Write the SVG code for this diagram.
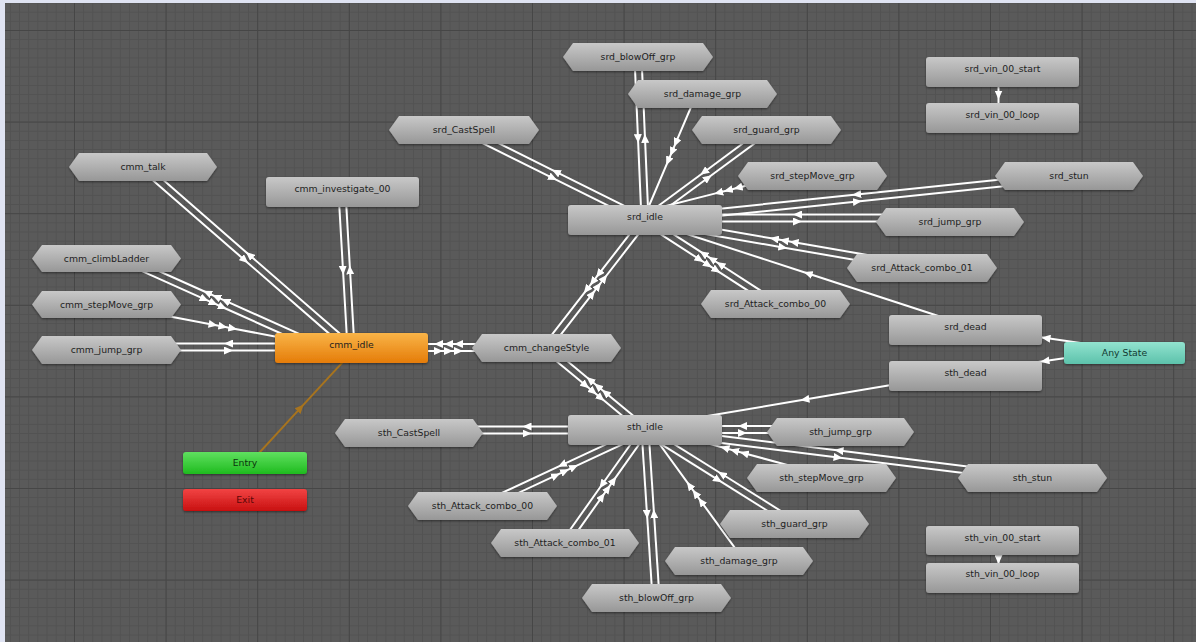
<svg xmlns="http://www.w3.org/2000/svg" width="1196" height="642" viewBox="0 0 1196 642">
<defs>
<style>
.ln{fill:none;stroke:#ffffff;stroke-width:2;marker-mid:url(#ar)}
.lo{fill:none;stroke:#a8741e;stroke-width:2;marker-mid:url(#ao)}
.hx{fill:url(#gg);filter:url(#sh)}
.rc{fill:url(#gg);filter:url(#sh)}
.lb{font-family:"DejaVu Sans",Verdana,sans-serif;font-size:9.3px;fill:#1e1e1e;text-anchor:middle}
</style>
<linearGradient id="gg" x1="0" y1="0" x2="0" y2="1"><stop offset="0" stop-color="#c8c8c8"/><stop offset="1" stop-color="#979797"/></linearGradient>
<linearGradient id="go" x1="0" y1="0" x2="0" y2="1"><stop offset="0" stop-color="#f9b448"/><stop offset="1" stop-color="#e57c08"/></linearGradient>
<linearGradient id="gn" x1="0" y1="0" x2="0" y2="1"><stop offset="0" stop-color="#5fe05f"/><stop offset="1" stop-color="#1fbb1f"/></linearGradient>
<linearGradient id="gr" x1="0" y1="0" x2="0" y2="1"><stop offset="0" stop-color="#f24444"/><stop offset="1" stop-color="#c81010"/></linearGradient>
<linearGradient id="gt" x1="0" y1="0" x2="0" y2="1"><stop offset="0" stop-color="#92e3cf"/><stop offset="1" stop-color="#5cc2ab"/></linearGradient>
<filter id="sh" x="-10%" y="-20%" width="120%" height="150%"><feDropShadow dx="0" dy="1.2" stdDeviation="1" flood-color="#000" flood-opacity="0.45"/></filter>
<marker id="ar" viewBox="0 0 9 8" markerWidth="9" markerHeight="8" refX="4.5" refY="4" orient="auto" markerUnits="userSpaceOnUse"><path d="M0,0 L9,4 L0,8 z" fill="#ffffff"/></marker>
<marker id="ao" viewBox="0 0 9 8" markerWidth="9" markerHeight="8" refX="4.5" refY="4" orient="auto" markerUnits="userSpaceOnUse"><path d="M0,0 L9,4 L0,8 z" fill="#a8741e"/></marker>
<pattern id="gm" x="74" y="30" width="9.16" height="9.16" patternUnits="userSpaceOnUse"><rect width="9.16" height="1" fill="#525252"/><rect width="1" height="9.16" fill="#525252"/></pattern>
<pattern id="gM" x="74" y="30" width="91.6" height="91.6" patternUnits="userSpaceOnUse"><rect width="91.6" height="1" fill="#464646"/><rect width="1" height="91.6" fill="#464646"/></pattern>
</defs>

<rect x="0" y="0" width="1196" height="642" fill="#dfe3f2"/>
<rect x="5" y="3" width="1191" height="639" fill="#5a5a5a"/>
<rect x="5" y="3" width="1191" height="639" fill="url(#gm)"/>
<rect x="5" y="3" width="1191" height="639" fill="url(#gM)"/>

<g id="connectors">
<g transform="translate(143 167) rotate(41.03)"><polyline class="ln" points="0,3.5 137.9,3.5 275.7,3.5"/><polyline class="ln" points="275.7,-3.5 137.9,-3.5 0,-3.5"/></g>
<g transform="translate(342 192) rotate(86.7)"><polyline class="ln" points="0,3.5 78.2,3.5 156.3,3.5"/><polyline class="ln" points="156.3,-3.5 78.2,-3.5 0,-3.5"/></g>
<g transform="translate(110 253) rotate(24.12)"><polyline class="ln" points="0,3.5 105,3.5 115,3.5 125,3.5 230.1,3.5"/><polyline class="ln" points="230.1,-3.5 125,-3.5 115,-3.5 105,-3.5 0,-3.5"/></g>
<g transform="translate(110 305) rotate(10.81)"><polyline class="ln" points="0,0 105,0 115,0 125,0 224,0"/></g>
<g transform="translate(106 347)"><polyline class="ln" points="0,3.5 122.5,3.5 245,3.5"/><polyline class="ln" points="245,-3.5 122.5,-3.5 0,-3.5"/></g>
<g transform="translate(351 347.5)"><polyline class="ln" points="0,3.5 87.5,3.5 97.5,3.5 107.5,3.5 195,3.5"/><polyline class="ln" points="195,-3.5 107.5,-3.5 97.5,-3.5 87.5,-3.5 0,-3.5"/></g>
<g transform="translate(546 348) rotate(-52.28)"><polyline class="ln" points="0,3.5 70.9,3.5 80.9,3.5 90.9,3.5 161.8,3.5"/><polyline class="ln" points="161.8,-3.5 90.9,-3.5 80.9,-3.5 70.9,-3.5 0,-3.5"/></g>
<g transform="translate(546 348) rotate(39.63)"><polyline class="ln" points="0,3.5 54.3,3.5 64.3,3.5 74.3,3.5 128.6,3.5"/><polyline class="ln" points="128.6,-3.5 74.3,-3.5 64.3,-3.5 54.3,-3.5 0,-3.5"/></g>
<g transform="translate(245 463) rotate(-47.33)"><polyline class="lo" points="0,3.5 78.2,3.5 156.4,3.5"/></g>
<g transform="translate(464 130) rotate(26.44)"><polyline class="ln" points="0,3.5 101,3.5 202.1,3.5"/><polyline class="ln" points="202.1,-3.5 101,-3.5 0,-3.5"/></g>
<g transform="translate(638 57) rotate(87.54)"><polyline class="ln" points="0,3.5 81.6,3.5 163.2,3.5"/><polyline class="ln" points="163.2,-3.5 81.6,-3.5 0,-3.5"/></g>
<g transform="translate(697 93) rotate(113.04)"><polyline class="ln" points="0,0 54,0 64,0 74,0 138,0"/></g>
<g transform="translate(645 220) rotate(-36.42)"><polyline class="ln" points="0,3.5 75.8,3.5 151.6,3.5"/><polyline class="ln" points="151.6,-3.5 75.8,-3.5 0,-3.5"/></g>
<g transform="translate(800 172) rotate(165.78)"><polyline class="ln" points="0,0 64,0 74,0 84,0 154.7,0"/></g>
<g transform="translate(645 220) rotate(-5.92)"><polyline class="ln" points="0,3.5 213.2,3.5 426.3,3.5"/><polyline class="ln" points="426.3,-3.5 213.2,-3.5 0,-3.5"/></g>
<g transform="translate(645 218)"><polyline class="ln" points="0,3.5 152.5,3.5 305,3.5"/><polyline class="ln" points="305,-3.5 152.5,-3.5 0,-3.5"/></g>
<g transform="translate(645 220) rotate(9.83)"><polyline class="ln" points="0,3.5 140.6,3.5 281.1,3.5"/><polyline class="ln" points="281.1,-3.5 150.6,-3.5 140.6,-3.5 130.6,-3.5 0,-3.5"/></g>
<g transform="translate(645 220) rotate(32.87)"><polyline class="ln" points="0,3.5 67.4,3.5 77.4,3.5 87.4,3.5 154.8,3.5"/><polyline class="ln" points="154.8,-3.5 87.4,-3.5 77.4,-3.5 67.4,-3.5 0,-3.5"/></g>
<g transform="translate(966 325) rotate(-161.95)"><polyline class="ln" points="0,0 166.2,0 332.4,0"/></g>
<g transform="translate(1125 353) rotate(-171.77)"><polyline class="ln" points="0,3.5 80.4,3.5 160.7,3.5"/></g>
<g transform="translate(1125 353) rotate(171.77)"><polyline class="ln" points="0,3.5 80.4,3.5 160.7,3.5"/></g>
<g transform="translate(966 376) rotate(170.45)"><polyline class="ln" points="0,3.5 162.8,3.5 325.5,3.5"/></g>
<g transform="translate(409 430)"><polyline class="ln" points="0,3.5 118,3.5 236,3.5"/><polyline class="ln" points="236,-3.5 118,-3.5 0,-3.5"/></g>
<g transform="translate(645 430) rotate(155)"><polyline class="ln" points="0,3.5 89.9,3.5 179.8,3.5"/><polyline class="ln" points="179.8,-3.5 99.9,-3.5 89.9,-3.5 79.9,-3.5 0,-3.5"/></g>
<g transform="translate(645 430) rotate(125.3)"><polyline class="ln" points="0,3.5 69.3,3.5 138.5,3.5"/><polyline class="ln" points="138.5,-3.5 79.3,-3.5 69.3,-3.5 59.3,-3.5 0,-3.5"/></g>
<g transform="translate(645 430) rotate(86.25)"><polyline class="ln" points="0,3.5 84.2,3.5 168.4,3.5"/><polyline class="ln" points="168.4,-3.5 84.2,-3.5 0,-3.5"/></g>
<g transform="translate(740 561) rotate(-125.95)"><polyline class="ln" points="0,3.5 70.9,3.5 80.9,3.5 90.9,3.5 161.8,3.5"/></g>
<g transform="translate(645 430) rotate(32.07)"><polyline class="ln" points="0,3.5 88.5,3.5 177,3.5"/><polyline class="ln" points="177,-3.5 88.5,-3.5 0,-3.5"/></g>
<g transform="translate(822 478) rotate(-164.83)"><polyline class="ln" points="0,3.5 81.7,3.5 91.7,3.5 101.7,3.5 183.4,3.5"/></g>
<g transform="translate(645 430) rotate(7.07)"><polyline class="ln" points="0,3.5 195,3.5 390,3.5"/><polyline class="ln" points="390,-3.5 195,-3.5 0,-3.5"/></g>
<g transform="translate(645 429.5)"><polyline class="ln" points="0,3.5 97.5,3.5 195,3.5"/><polyline class="ln" points="195,-3.5 97.5,-3.5 0,-3.5"/></g>
<g transform="translate(1002 72) rotate(90)"><polyline class="ln" points="0,3.5 23,3.5 46,3.5"/></g>
<g transform="translate(1002 541) rotate(90)"><polyline class="ln" points="0,3.5 18.5,3.5 37,3.5"/></g>
</g>

<g id="n-cmm_talk"><polygon class="hx" points="69,167 79,153 207,153 217,167 207,181 79,181"/><text class="lb" x="143" y="170.3">cmm_talk</text></g>
<g id="n-cmm_climbLadder"><polygon class="hx" points="32,258.5 42,245 171,245 181,258.5 171,272 42,272"/><text class="lb" x="106.5" y="261.8">cmm_climbLadder</text></g>
<g id="n-cmm_stepMove_grp"><polygon class="hx" points="32,304.5 42,291 171,291 181,304.5 171,318 42,318"/><text class="lb" x="106.5" y="307.8">cmm_stepMove_grp</text></g>
<g id="n-cmm_jump_grp"><polygon class="hx" points="32,350 42,336 171,336 181,350 171,364 42,364"/><text class="lb" x="106.5" y="353.3">cmm_jump_grp</text></g>
<g id="n-cmm_investigate_00"><rect class="rc" x="266" y="177" width="153" height="30" rx="3"/><text class="lb" x="342.5" y="191.5">cmm_investigate_00</text></g>
<g id="n-cmm_idle"><rect x="275" y="333" width="153" height="30" rx="3" fill="url(#go)" filter="url(#sh)"/><text class="lb" x="351.5" y="347.5">cmm_idle</text></g>
<g id="n-cmm_changeStyle"><polygon class="hx" points="472,348 482,334 611,334 621,348 611,362 482,362"/><text class="lb" x="546.5" y="351.3">cmm_changeStyle</text></g>
<g id="n-entry"><rect x="183" y="452" width="124" height="22" rx="3" fill="url(#gn)" filter="url(#sh)"/><text class="lb" x="245" y="466.3" style="fill:#0c330c">Entry</text></g>
<g id="n-exit"><rect x="183" y="489" width="124" height="22" rx="3" fill="url(#gr)" filter="url(#sh)"/><text class="lb" x="245" y="503.3" style="fill:#5a0808">Exit</text></g>

<g id="n-srd_blowOff_grp"><polygon class="hx" points="563,57 573,43 703,43 713,57 703,71 573,71"/><text class="lb" x="638" y="60.3">srd_blowOff_grp</text></g>
<g id="n-srd_damage_grp"><polygon class="hx" points="628,94 638,80 767,80 777,94 767,108 638,108"/><text class="lb" x="702.5" y="97.3">srd_damage_grp</text></g>
<g id="n-srd_guard_grp"><polygon class="hx" points="692,130 702,116 831,116 841,130 831,144 702,144"/><text class="lb" x="766.5" y="133.3">srd_guard_grp</text></g>
<g id="n-srd_CastSpell"><polygon class="hx" points="389,130 399,116 529,116 539,130 529,144 399,144"/><text class="lb" x="464" y="133.3">srd_CastSpell</text></g>
<g id="n-srd_stepMove_grp"><polygon class="hx" points="738,176 748,162 877,162 887,176 877,190 748,190"/><text class="lb" x="812.5" y="179.3">srd_stepMove_grp</text></g>
<g id="n-srd_stun"><polygon class="hx" points="995,176 1005,162 1133,162 1143,176 1133,190 1005,190"/><text class="lb" x="1069" y="179.3">srd_stun</text></g>
<g id="n-srd_jump_grp"><polygon class="hx" points="876,222 886,208 1014,208 1024,222 1014,236 886,236"/><text class="lb" x="950" y="225.3">srd_jump_grp</text></g>
<g id="n-srd_Attack_combo_01"><polygon class="hx" points="847,268 857,254 987,254 997,268 987,282 857,282"/><text class="lb" x="922" y="271.3">srd_Attack_combo_01</text></g>
<g id="n-srd_Attack_combo_00"><polygon class="hx" points="701,304 711,290 840,290 850,304 840,318 711,318"/><text class="lb" x="775.5" y="307.3">srd_Attack_combo_00</text></g>
<g id="n-srd_idle"><rect class="rc" x="568" y="205" width="154" height="30" rx="3"/><text class="lb" x="645" y="219.5">srd_idle</text></g>
<g id="n-srd_dead"><rect class="rc" x="889" y="315" width="153" height="30" rx="3"/><text class="lb" x="965.5" y="329.5">srd_dead</text></g>
<g id="n-srd_vin_00_start"><rect class="rc" x="926" y="57" width="153" height="30" rx="3"/><text class="lb" x="1002.5" y="71.5">srd_vin_00_start</text></g>
<g id="n-srd_vin_00_loop"><rect class="rc" x="926" y="103" width="153" height="30" rx="3"/><text class="lb" x="1002.5" y="117.5">srd_vin_00_loop</text></g>

<g id="n-any_state"><rect x="1064" y="342" width="121" height="22" rx="3" fill="url(#gt)" filter="url(#sh)"/><text class="lb" x="1124.5" y="356.3" style="fill:#123a31">Any State</text></g>

<g id="n-sth_dead"><rect class="rc" x="889" y="361" width="153" height="30" rx="3"/><text class="lb" x="965.5" y="375.5">sth_dead</text></g>
<g id="n-sth_idle"><rect class="rc" x="568" y="415" width="154" height="30" rx="3"/><text class="lb" x="645" y="429.5">sth_idle</text></g>
<g id="n-sth_CastSpell"><polygon class="hx" points="335,433 345,419 473,419 483,433 473,447 345,447"/><text class="lb" x="409" y="436.3">sth_CastSpell</text></g>
<g id="n-sth_jump_grp"><polygon class="hx" points="767,432 777,418 904,418 914,432 904,446 777,446"/><text class="lb" x="840.5" y="435.3">sth_jump_grp</text></g>
<g id="n-sth_stepMove_grp"><polygon class="hx" points="747,478 757,464 886,464 896,478 886,492 757,492"/><text class="lb" x="821.5" y="481.3">sth_stepMove_grp</text></g>
<g id="n-sth_stun"><polygon class="hx" points="958,478 968,464 1097,464 1107,478 1097,492 968,492"/><text class="lb" x="1032.5" y="481.3">sth_stun</text></g>
<g id="n-sth_Attack_combo_00"><polygon class="hx" points="408,506 418,492 547,492 557,506 547,520 418,520"/><text class="lb" x="482.5" y="509.3">sth_Attack_combo_00</text></g>
<g id="n-sth_guard_grp"><polygon class="hx" points="720,524 730,510 859,510 869,524 859,538 730,538"/><text class="lb" x="794.5" y="527.3">sth_guard_grp</text></g>
<g id="n-sth_Attack_combo_01"><polygon class="hx" points="491,543 501,529 629,529 639,543 629,557 501,557"/><text class="lb" x="565" y="546.3">sth_Attack_combo_01</text></g>
<g id="n-sth_damage_grp"><polygon class="hx" points="665,561 675,547 803,547 813,561 803,575 675,575"/><text class="lb" x="739" y="564.3">sth_damage_grp</text></g>
<g id="n-sth_blowOff_grp"><polygon class="hx" points="582,598 592,584 721,584 731,598 721,612 592,612"/><text class="lb" x="656.5" y="601.3">sth_blowOff_grp</text></g>
<g id="n-sth_vin_00_start"><rect class="rc" x="926" y="526" width="153" height="29" rx="3"/><text class="lb" x="1002.5" y="540.5">sth_vin_00_start</text></g>
<g id="n-sth_vin_00_loop"><rect class="rc" x="926" y="563" width="153" height="30" rx="3"/><text class="lb" x="1002.5" y="577">sth_vin_00_loop</text></g>
</svg>
